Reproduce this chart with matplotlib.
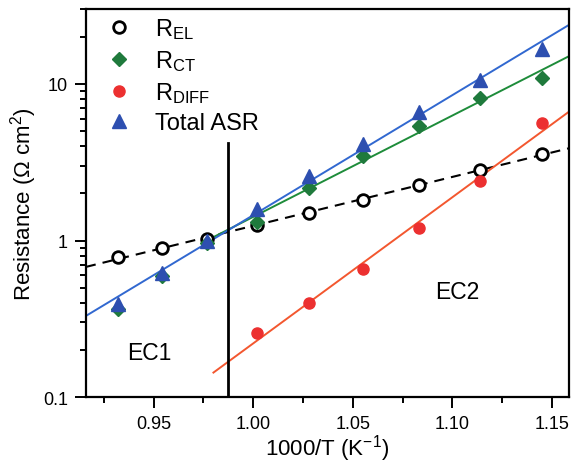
import numpy as np
import matplotlib
matplotlib.use("Agg")
import matplotlib.pyplot as plt
from matplotlib.ticker import FixedLocator, FuncFormatter, LogLocator, NullFormatter

plt.rcParams['font.family'] = ['Liberation Sans', 'DejaVu Sans']
plt.rcParams['mathtext.fontset'] = 'custom'
plt.rcParams['mathtext.rm'] = 'Liberation Sans'
plt.rcParams['mathtext.it'] = 'Liberation Sans:italic'
plt.rcParams['mathtext.bf'] = 'Liberation Sans:bold'

# 1000/T (K^-1) for 800 ... 600 °C
inv_t = [0.932, 0.954, 0.977, 1.002, 1.028, 1.055, 1.083, 1.114, 1.145]

r_el = [0.787, 0.898, 1.02, 1.25, 1.50, 1.82, 2.27, 2.83, 3.57]
r_ct = [0.367, 0.593, 0.967, 1.315, 2.17, 3.44, 5.40, 8.11, 10.9]
r_diff_x = [1.002, 1.028, 1.055, 1.083, 1.114, 1.145]
r_diff = [0.256, 0.401, 0.66, 1.21, 2.39, 5.67]
total_asr = [0.391, 0.616, 1.00, 1.59, 2.59, 4.15, 6.66, 10.6, 16.6]

x_ticks = [0.95, 1.00, 1.05, 1.10, 1.15]
y_ticks = [0.1, 1, 10]

XMIN, XMAX = 0.916, 1.1585
YMIN, YMAX = 0.1, 30
X_BOUNDARY = 0.9872


def arrhenius_fit(x, y, x0, x1):
    """Least-squares line of log10(y) versus x, evaluated from x0 to x1."""
    k, b = np.polyfit(np.asarray(x), np.log10(y), 1)
    xs = np.array([x0, x1])
    return xs, 10 ** (k * xs + b)


fig = plt.figure(figsize=(5.73, 4.64), dpi=100)
ax = fig.add_axes([0.150, 0.142, 0.843, 0.836])

c_el = 'black'
c_ct = '#1f7a3c'
c_ct_line = '#1e8c3a'
c_diff = '#ec3030'
c_diff_line = '#f3572f'
c_tot = '#2d4fb0'
c_tot_line = '#3168d0'

# fitted lines
xs, ys = arrhenius_fit(inv_t, r_el, XMIN, XMAX)
ax.plot(xs, ys, color='black', lw=1.5, ls=(0, (4.8, 3.4)), zorder=2)
xs, ys = arrhenius_fit(inv_t[3:], r_ct[3:], 0.975, XMAX)
ax.plot(xs, ys, color=c_ct_line, lw=1.4, zorder=2)
xs, ys = arrhenius_fit(r_diff_x, r_diff, 0.980, XMAX)
ax.plot(xs, ys, color=c_diff_line, lw=1.4, zorder=2)
xs, ys = arrhenius_fit(inv_t, total_asr, XMIN, XMAX)
ax.plot(xs, ys, color=c_tot_line, lw=1.4, zorder=2)

# boundary between the two regimes
ax.plot([X_BOUNDARY, X_BOUNDARY], [YMIN, 4.2], color='black', lw=2.0, zorder=3)

# data points
h_el, = ax.plot(inv_t, r_el, 'o', ms=8.4, mfc='white', mec=c_el, mew=2.0,
                ls='none', zorder=4)
h_ct, = ax.plot(inv_t, r_ct, 'D', ms=7.4, color=c_ct, ls='none', zorder=4)
h_diff, = ax.plot(r_diff_x, r_diff, 'o', ms=8.0, color=c_diff, ls='none', zorder=4)
h_tot, = ax.plot(inv_t, total_asr, '^', ms=9.8, color=c_tot, ls='none', zorder=5)

ax.set_yscale('log')
ax.set_xlim(XMIN, XMAX)
ax.set_ylim(YMIN, YMAX)

ax.xaxis.set_major_locator(FixedLocator(x_ticks))
ax.xaxis.set_minor_locator(FixedLocator([0.925, 0.975, 1.025, 1.075, 1.125]))
ax.xaxis.set_major_formatter(FuncFormatter(lambda v, p: f'{v:.2f}'))
ax.yaxis.set_major_locator(FixedLocator(y_ticks))
ax.yaxis.set_major_formatter(FuncFormatter(lambda v, p: f'{v:g}'))
ax.yaxis.set_minor_locator(LogLocator(base=10, subs=np.arange(2, 10)))
ax.yaxis.set_minor_formatter(NullFormatter())

ax.tick_params(which='major', direction='out', length=8, width=1.4,
               labelsize=13, pad=5)
ax.tick_params(which='minor', direction='out', length=4.5, width=1.4)
ax.tick_params(top=False, right=False, which='both')
for sp in ax.spines.values():
    sp.set_linewidth(1.6)

ax.set_xlabel('1000/T (K$^{\\mathregular{-1}}$)', fontsize=16, labelpad=0)
ax.set_ylabel('Resistance (Ω cm$^{\\mathregular{2}}$)', fontsize=16, labelpad=3)

ax.text(0.948, 0.194, 'EC1', fontsize=16.5, ha='center', va='center')
ax.text(1.1023, 0.473, 'EC2', fontsize=16.5, ha='center', va='center')

leg = ax.legend([h_el, h_ct, h_diff, h_tot],
                ['R$_{\\mathregular{EL}}$', 'R$_{\\mathregular{CT}}$',
                 'R$_{\\mathregular{DIFF}}$', 'Total ASR'],
                loc='upper left', bbox_to_anchor=(0.03, 1.0), frameon=False,
                fontsize=17, handlelength=1.0, handletextpad=1.0,
                labelspacing=0.3, borderaxespad=0.1, borderpad=0.2)

fig.savefig('out.png', dpi=100)
